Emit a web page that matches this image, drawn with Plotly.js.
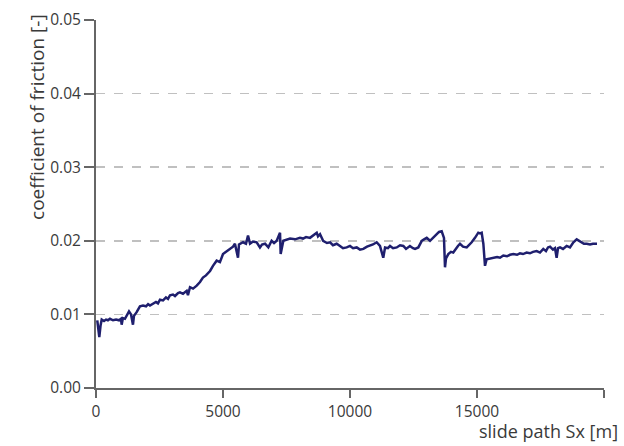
<!DOCTYPE html>
<html>
<head>
<meta charset="utf-8">
<script src="https://cdn.plot.ly/plotly-3.0.1.min.js"></script>
<style>html,body{margin:0;padding:0;background:#fff;}#chart{width:624px;height:446px;}</style>
</head>
<body>
<div id="chart"></div>
<script>
// slide path Sx [m]
const slidePath = [50,100,130,180,225,315,395,470,550,670,790,905,985,1010,1060,1140,1210,1300,1380,1455,1495,1600,1730,1850,1970,2050,2125,2245,2360,2440,2520,2640,2755,2835,2915,3030,3110,3230,3305,3425,3570,3620,3700,3820,3965,4095,4210,4330,4490,4605,4750,4880,5000,5120,5275,5395,5470,5590,5630,5790,5905,5985,6065,6180,6325,6455,6535,6655,6785,6915,7010,7115,7245,7270,7375,7520,7640,7835,8030,8150,8270,8425,8545,8690,8740,8820,8900,8940,9095,9215,9330,9475,9605,9725,9870,10000,10120,10265,10395,10525,10670,10790,10905,11050,11180,11310,11380,11495,11575,11695,11840,11970,12100,12205,12360,12480,12560,12690,12825,12915,13020,13150,13280,13415,13505,13610,13700,13740,13780,13870,13975,14065,14175,14250,14330,14450,14595,14685,14790,14920,15050,15120,15185,15250,15315,15380,15510,15640,15790,15905,16035,16180,16300,16430,16575,16690,16810,16955,17085,17205,17350,17480,17610,17715,17795,17875,17990,18070,18135,18190,18270,18385,18530,18660,18795,18925,19020,19120,19210,19320,19450,19565,19725];
// coefficient of friction [-]
const friction = [0.0092,0.0080,0.0069,0.0085,0.0093,0.0091,0.0093,0.0092,0.0094,0.0092,0.0093,0.0092,0.0094,0.0086,0.0095,0.0094,0.0099,0.0104,0.0100,0.0086,0.0098,0.0103,0.0111,0.0112,0.0111,0.0114,0.0112,0.0115,0.0117,0.0115,0.0120,0.0119,0.0123,0.0121,0.0126,0.0127,0.0125,0.0129,0.0130,0.0128,0.0132,0.0126,0.0137,0.0135,0.0139,0.0144,0.0150,0.0153,0.0159,0.0166,0.0173,0.0171,0.0182,0.0185,0.0189,0.0192,0.0196,0.0177,0.0195,0.0198,0.0196,0.0207,0.0196,0.0199,0.0198,0.0191,0.0195,0.0196,0.0191,0.0200,0.0197,0.0200,0.0211,0.0182,0.0200,0.0202,0.0203,0.0202,0.0204,0.0203,0.0205,0.0204,0.0207,0.0211,0.0206,0.0209,0.0203,0.0200,0.0197,0.0198,0.0194,0.0196,0.0193,0.0190,0.0191,0.0193,0.0190,0.0191,0.0188,0.0189,0.0192,0.0193,0.0195,0.0198,0.0193,0.0177,0.0191,0.0190,0.0193,0.0190,0.0191,0.0194,0.0193,0.0189,0.0193,0.0190,0.0189,0.0191,0.0200,0.0202,0.0204,0.0200,0.0204,0.0209,0.0212,0.0213,0.0204,0.0164,0.0176,0.0182,0.0185,0.0184,0.0190,0.0193,0.0196,0.0192,0.0191,0.0194,0.0198,0.0204,0.0211,0.0210,0.0211,0.0196,0.0166,0.0175,0.0176,0.0177,0.0178,0.0177,0.0180,0.0179,0.0181,0.0182,0.0181,0.0183,0.0182,0.0184,0.0183,0.0185,0.0186,0.0184,0.0189,0.0186,0.0191,0.0192,0.0188,0.0190,0.0177,0.0190,0.0191,0.0189,0.0193,0.0191,0.0198,0.0202,0.0200,0.0199,0.0196,0.0196,0.0195,0.0196,0.0196];
const xTicks = [0,5000,10000,15000,20000];
const yTicks = [0,0.01,0.02,0.03,0.04,0.05];
const gridVals = [0.01,0.02,0.03,0.04];
const xLabel = 'slide path Sx [m]';
const yLabel = 'coefficient of friction [-]';

const family = '"Open Sans", "Noto Sans", sans-serif';
const tickFont = {family: family, size: 15.5, color: '#3a3a3a'};
const titleFont = {family: family, size: 18, color: '#3a3a3a'};
const yTitleFont = {family: family, size: 19, color: '#3a3a3a'};

const trace = {
  x: slidePath, y: friction, type: 'scatter', mode: 'lines',
  line: {color: '#1f1f6e', width: 2.5}, hoverinfo: 'skip', showlegend: false
};
const gridTrace = {x: [0], y: [0], yaxis: 'y2', mode: 'none', type: 'scatter', showlegend: false, hoverinfo: 'skip'};

const layout = {
  width: 624, height: 446,
  margin: {l: 96, r: 20, t: 20, b: 58},
  paper_bgcolor: '#fff', plot_bgcolor: '#fff',
  font: tickFont,
  showlegend: false,
  xaxis: {
    range: [0, 20000], tickvals: xTicks, ticktext: xTicks.map(String),
    ticks: 'outside', ticklen: 8, tickwidth: 2, tickcolor: '#666',
    showline: true, linecolor: '#666', linewidth: 2,
    showgrid: false, zeroline: false, tickfont: tickFont
  },
  yaxis: {
    range: [0, 0.05], tickvals: yTicks, ticktext: yTicks.map(v => v.toFixed(2)),
    ticks: 'outside', ticklen: 10, tickwidth: 2, tickcolor: '#666',
    showline: true, linecolor: '#666', linewidth: 2,
    showgrid: false, zeroline: false, tickfont: tickFont
  },
  yaxis2: {
    overlaying: 'y', range: [0, 0.05], tickvals: gridVals,
    showticklabels: false, ticks: '', showline: false, zeroline: false,
    showgrid: true, gridcolor: '#c0c0c0', gridwidth: 1.5, griddash: 'dash'
  },
  annotations: [
    {text: xLabel, xref: 'paper', yref: 'paper', x: 1.032, y: -0.155, xanchor: 'right', yanchor: 'bottom', showarrow: false, font: titleFont},
    {text: yLabel, xref: 'paper', yref: 'paper', x: -0.116, y: 1.022, xanchor: 'center', yanchor: 'top', textangle: -90, showarrow: false, font: yTitleFont}
  ]
};

Plotly.newPlot('chart', [gridTrace, trace], layout, {displayModeBar: false, staticPlot: true});
</script>
</body>
</html>
